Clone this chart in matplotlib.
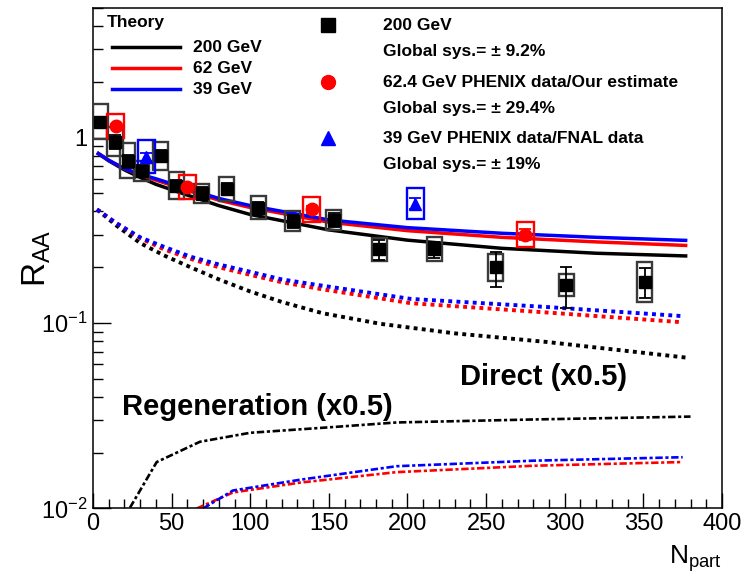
import math
import matplotlib
matplotlib.use('Agg')
import matplotlib.pyplot as plt
from matplotlib.patches import Rectangle
from matplotlib.ticker import FixedLocator, FuncFormatter, LogLocator, MultipleLocator, NullFormatter

plt.rcParams['font.family'] = ['Liberation Sans', 'DejaVu Sans']
plt.rcParams['mathtext.default'] = 'regular'

# PHENIX 200 GeV data
n_200 = [4.5, 14, 22, 31, 43, 53, 69, 85, 105, 127, 153, 182, 217, 256, 301, 351]
raa_200 = [1.22, 0.95, 0.75, 0.66, 0.80, 0.55, 0.50, 0.53, 0.42, 0.355, 0.36, 0.25, 0.25, 0.20, 0.16, 0.167]
stat_200 = [0.08, 0.08, 0.06, 0.05, 0.06, 0.04, 0.04, 0.04, 0.03, 0.03, 0.03, 0.03, 0.025, 0.043, 0.04, 0.03]
sys_200 = [0.24, 0.20, 0.24, 0.13, 0.19, 0.18, 0.13, 0.16, 0.16, 0.13, 0.13, 0.15, 0.16, 0.18, 0.15, 0.28]

# 62.4 GeV
n_62 = [14.5, 60, 139, 275]
raa_62 = [1.16, 0.54, 0.41, 0.30]
stat_62 = [0.03, 0.02, 0.02, 0.02]
sys_62 = [0.16, 0.16, 0.17, 0.17]

# 39 GeV
n_39 = [34, 205]
raa_39 = [0.79, 0.44]
stat_39 = [0.04, 0.03]
sys_39 = [0.23, 0.21]

# theory: total
tot_n = [2.5, 10, 20, 30, 40, 60, 80, 100, 150, 200, 260, 320, 378]
tot_200 = [0.83, 0.75, 0.67, 0.61, 0.56, 0.49, 0.43, 0.385, 0.318, 0.28, 0.253, 0.238, 0.23]
tot_62 = [0.83, 0.755, 0.68, 0.63, 0.59, 0.52, 0.46, 0.42, 0.35, 0.315, 0.29, 0.274, 0.262]
tot_39 = [0.83, 0.755, 0.68, 0.635, 0.60, 0.53, 0.47, 0.43, 0.36, 0.327, 0.305, 0.29, 0.279]

# theory: direct (x0.5)
dir_n = [2.5, 15, 30, 45, 62, 80, 100, 120, 146, 183, 230, 289, 378]
dir_200 = [0.41, 0.335, 0.27, 0.232, 0.200, 0.172, 0.148, 0.130, 0.113, 0.099, 0.088, 0.079, 0.065]
dir_n2 = [2.5, 15, 30, 45, 62, 80, 100, 120, 146, 202, 289, 375]
dir_62 = [0.41, 0.345, 0.287, 0.250, 0.222, 0.200, 0.182, 0.166, 0.152, 0.128, 0.114, 0.101]
dir_39 = [0.41, 0.345, 0.29, 0.258, 0.228, 0.207, 0.189, 0.172, 0.159, 0.135, 0.122, 0.109]

# theory: regeneration (x0.5)
reg_n_200 = [23.5, 40.5, 68, 100, 153, 193, 280, 380]
reg_200 = [0.0101, 0.0178, 0.0229, 0.0256, 0.0275, 0.0291, 0.0302, 0.0313]
reg_n_62 = [66, 89, 132, 193, 280, 375]
reg_62 = [0.0100, 0.0122, 0.0138, 0.0157, 0.0170, 0.0178]
reg_n_39 = [70, 89, 132, 193, 280, 375]
reg_39 = [0.0100, 0.0125, 0.0143, 0.0169, 0.0181, 0.0189]

RED = '#ff0000'
BLUE = '#0000ff'

fig = plt.figure(figsize=(7.43, 5.75), dpi=100)
ax = fig.add_axes([0.1252, 0.1157, 0.8465, 0.8703])
ax.set_yscale('log')
ax.set_xlim(0, 400)
ax.set_ylim(0.01, 5)

dot = (0, (1.0, 1.1))
dashdot = (0, (2.8, 1.0, 1.2, 1.0))
for n, y, c in [(tot_n, tot_200, 'black'), (tot_n, tot_62, RED), (tot_n, tot_39, BLUE)]:
    ax.plot(n, y, color=c, lw=2.5, solid_capstyle='butt', solid_joinstyle='round')
for n, y, c in [(dir_n, dir_200, 'black'), (dir_n2, dir_62, RED), (dir_n2, dir_39, BLUE)]:
    ax.plot(n, y, color=c, lw=2.8, ls=dot)
for n, y, c in [(reg_n_200, reg_200, 'black'), (reg_n_62, reg_62, RED), (reg_n_39, reg_39, BLUE)]:
    ax.plot(n, y, color=c, lw=1.9, ls=dashdot)


def draw_data(n, raa, stat, sys, color, edge, marker, ms, hw):
    for x, y, s in zip(n, raa, sys):
        lo = y / (1 + s)
        hi = y * (1 + s)
        ax.add_patch(Rectangle((x - hw, lo), 2 * hw, hi - lo, fill=False,
                               edgecolor=edge, lw=1.7, zorder=4))
    ax.errorbar(n, raa, yerr=stat, fmt=marker, color=color, ms=ms, mec=color,
                elinewidth=1.3, capsize=4, capthick=1.3, zorder=5)


draw_data(n_200, raa_200, stat_200, sys_200, 'black', '#3a3a3a', 's', 8.5, 4.8)
draw_data(n_62, raa_62, stat_62, sys_62, RED, RED, 'o', 9, 5.5)
draw_data(n_39, raa_39, stat_39, sys_39, BLUE, BLUE, '^', 8.5, 5.2)

# axes style
for sp in ax.spines.values():
    sp.set_linewidth(1.1)
ax.xaxis.set_major_locator(MultipleLocator(50))
ax.xaxis.set_minor_locator(MultipleLocator(10))
ax.yaxis.set_major_locator(FixedLocator([0.01, 0.1, 1]))
ax.yaxis.set_minor_locator(LogLocator(base=10, subs=range(2, 10)))
ax.yaxis.set_minor_formatter(NullFormatter())
ax.yaxis.set_major_formatter(FuncFormatter(
    lambda v, p: '1' if abs(v - 1) < 1e-9 else r'$10^{%d}$' % round(math.log10(v))))
ax.tick_params(which='both', direction='in', top=False, right=False, width=1.0)
ax.tick_params(axis='x', which='major', length=11, labelsize=17, pad=3)
ax.tick_params(axis='x', which='minor', length=6.5)
ax.tick_params(axis='y', which='major', length=13, labelsize=17, pad=4)
ax.tick_params(axis='y', which='minor', length=7)

ax.set_ylabel(r'$R_{AA}$', fontsize=24)
ax.yaxis.set_label_coords(-0.064, 0.5)
ax.text(1.0, -0.069, r'$N_{part}$', transform=ax.transAxes, ha='right', va='top', fontsize=19)

# annotations
ax.text(0.717, 0.262, 'Direct (x0.5)', transform=ax.transAxes, ha='center', va='center',
        fontsize=21, fontweight='bold')
ax.text(0.261, 0.202, 'Regeneration (x0.5)', transform=ax.transAxes, ha='center', va='center',
        fontsize=21, fontweight='bold')

# theory legend
lw_font = 12.5
ax.text(0.0223, 0.972, 'Theory', transform=ax.transAxes, ha='left', va='center',
        fontsize=lw_font, fontweight='bold')
for yy, c, lab in [(0.922, 'black', '200 GeV'), (0.880, RED, '62 GeV'), (0.838, BLUE, '39 GeV')]:
    ax.plot([0.030, 0.138], [yy, yy], color=c, lw=2.5, transform=ax.transAxes, clip_on=False)
    ax.text(0.159, yy, lab, transform=ax.transAxes, ha='left', va='center',
            fontsize=lw_font, fontweight='bold')

# data legend
entries = [
    ('s', 'black', 0.966, '200 GeV', 'Global sys.= \u00b1 9.2%'),
    ('o', RED, 0.852, '62.4 GeV PHENIX data/Our estimate', 'Global sys.= \u00b1 29.4%'),
    ('^', BLUE, 0.740, '39 GeV PHENIX data/FNAL data', 'Global sys.= \u00b1 19%'),
]
for m, c, yy, l1, l2 in entries:
    ax.plot([0.3736], [yy], marker=m, color=c, ms=10, transform=ax.transAxes, clip_on=False)
    ax.text(0.461, yy, l1, transform=ax.transAxes, ha='left', va='center',
            fontsize=lw_font, fontweight='bold')
    ax.text(0.461, yy - 0.053, l2, transform=ax.transAxes, ha='left', va='center',
            fontsize=lw_font, fontweight='bold')

fig.savefig('out.png', dpi=100)
